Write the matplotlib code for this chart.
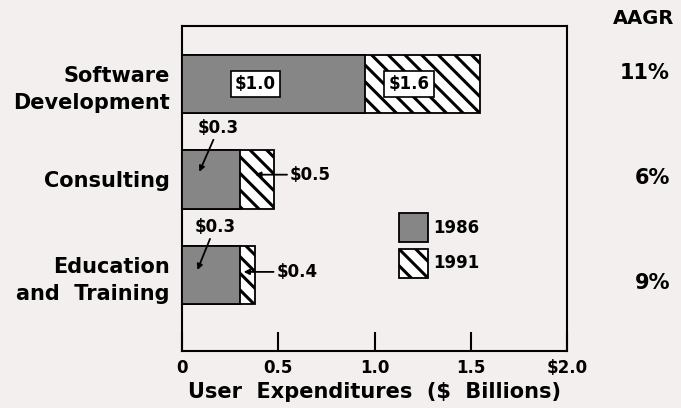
import matplotlib
matplotlib.use("Agg")
import matplotlib.pyplot as plt

# data
categories = ["Software\nDevelopment", "Consulting", "Education\nand  Training"]
spend_1986 = [0.95, 0.30, 0.30]
spend_1991 = [1.55, 0.48, 0.38]
labels_1986 = ["$1.0", "$0.3", "$0.3"]
labels_1991 = ["$1.6", "$0.5", "$0.4"]
aagr = ["11%", "6%", "9%"]
xticks = [0, 0.5, 1.0, 1.5, 2.0]
xtick_labels = ["0", "0.5", "1.0", "1.5", "$2.0"]

bg = "#f3efef"
plt.rcParams["font.family"] = "DejaVu Sans"
plt.rcParams["font.weight"] = "bold"
plt.rcParams["hatch.linewidth"] = 2.2
plt.rcParams["hatch.color"] = "black"

fig = plt.figure(figsize=(6.81, 4.08), dpi=100, facecolor=bg)
ax = fig.add_axes([0.2673, 0.1397, 0.5653, 0.7966])
ax.set_facecolor(bg)

ypos = [2, 1, 0]
h = 0.61
b91 = ax.barh(ypos, spend_1991, height=h, color="white", edgecolor="black",
              linewidth=1.3, hatch="\\\\", zorder=2, label="1991")
b86 = ax.barh(ypos, spend_1986, height=h, color="#868686", edgecolor="black",
              linewidth=1.3, zorder=3, label="1986")

box = dict(boxstyle="square,pad=0.25", fc="white", ec="black", lw=1.2)
# software development: boxed labels inside bars
ax.text(0.38, 2, labels_1986[0], ha="center", va="center", fontsize=12,
        bbox=box, zorder=5)
ax.text(1.18, 2, labels_1991[0], ha="center", va="center", fontsize=12,
        bbox=box, zorder=5)

arrow = dict(arrowstyle="-|>", color="black", lw=1.3, mutation_scale=8,
             shrinkA=0, shrinkB=0)
# consulting
ax.annotate(labels_1986[1], xy=(0.09, 1.08), xytext=(0.19, 1.54),
            ha="center", va="center", fontsize=12, arrowprops=arrow, zorder=5)
ax.annotate(labels_1991[1], xy=(0.38, 1.05), xytext=(0.56, 1.05),
            ha="left", va="center", fontsize=12, arrowprops=arrow, zorder=5)
# education and training
ax.annotate(labels_1986[2], xy=(0.08, 0.05), xytext=(0.17, 0.50),
            ha="center", va="center", fontsize=12, arrowprops=arrow, zorder=5)
ax.annotate(labels_1991[2], xy=(0.32, 0.03), xytext=(0.49, 0.03),
            ha="left", va="center", fontsize=12, arrowprops=arrow, zorder=5)

ax.set_xlim(0, 2.0)
ax.set_ylim(-0.80, 2.61)
ax.set_xticks(xticks)
ax.set_xticklabels(xtick_labels, fontsize=12, fontweight="bold")
ax.set_yticks(ypos)
ax.set_yticklabels(categories, fontsize=15, fontweight="bold",
                   multialignment="right", linespacing=1.45)
ax.tick_params(axis="x", direction="in", length=14, width=1.5, pad=6)
ax.tick_params(axis="y", length=0, pad=9)
for s in ax.spines.values():
    s.set_linewidth(1.5)
ax.set_xlabel("User  Expenditures  ($  Billions)", fontsize=15,
              fontweight="bold", labelpad=3)

ax.legend(handles=[b86, b91], loc="upper left", bbox_to_anchor=(0.564, 0.425),
          frameon=False, handlelength=1.75, handleheight=2.3,
          handletextpad=0.3, labelspacing=0.4, borderpad=0, borderaxespad=0,
          prop={"weight": "bold", "size": 12})

# AAGR column
fig.text(644 / 681, 1 - 18 / 408, "AAGR", ha="center", va="center",
         fontsize=14, fontweight="bold")
for txt, py in zip(aagr, [73, 178, 283]):
    fig.text(670 / 681, 1 - py / 408, txt, ha="right", va="center",
             fontsize=15, fontweight="bold")

fig.savefig("out.png", dpi=100, facecolor=bg)
